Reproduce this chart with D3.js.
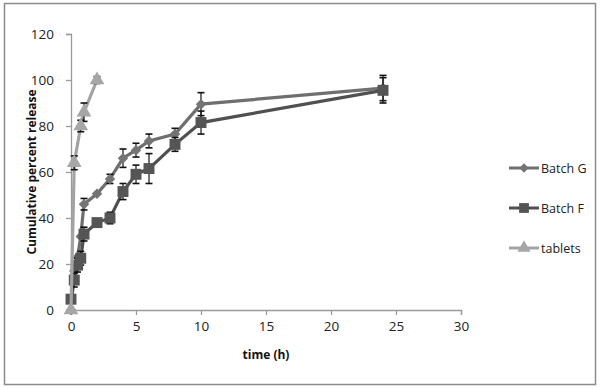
<!DOCTYPE html>
<html><head><meta charset="utf-8">
<script src="https://cdn.jsdelivr.net/npm/d3@7/dist/d3.min.js"></script>
<style>body{margin:0;background:#fff}svg{display:block;font-family:"Open Sans","Liberation Sans",sans-serif}</style>
</head><body>
<svg id="c" width="600" height="389"></svg>
<script>
const timesGF = [0,0.25,0.5,0.75,1,2,3,4,5,6,8,10,24];
const batchG = [0,17,23,32,46,50.5,57,66,69.5,73.5,76.5,89.5,96.5];
const batchGErr = [0,0,0,0,2.5,0,2,4,3,3,2.5,5,5.5];
const batchF = [4.7,13,19.5,22.5,33,38,40,51.5,59,61.5,72,81.5,95.5];
const batchFErr = [0,3,3,3,3,0,2.5,3.5,4,6.5,3,5,5.5];
const timesT = [0,0.25,0.75,1,2];
const tablets = [0,64,80,86,100];
const tabletsErr = [0,3,2.5,4,1.5];
const xTicks = [0,5,10,15,20,25,30];
const yTicks = [0,20,40,60,80,100,120];
const seriesNames = ["Batch G","Batch F","tablets"];

const svg = d3.select("#c");
svg.append("rect").attr("x",4.5).attr("y",3.5).attr("width",591).attr("height",381)
  .attr("fill","#fff").attr("stroke","#8c8c8c").attr("stroke-width",1.5);

const x = d3.scaleLinear().domain([0,30]).range([71,461]);
const y = d3.scaleLinear().domain([0,120]).range([310,34]);

const ax = svg.append("g").attr("transform","translate(0,310)")
  .call(d3.axisBottom(x).tickValues(xTicks).tickSize(5).tickPadding(6));
const ay = svg.append("g").attr("transform","translate(71,0)")
  .call(d3.axisLeft(y).tickValues(yTicks).tickSize(5).tickPadding(12));
[ax,ay].forEach(a=>{
  a.selectAll("path,line").attr("stroke","#9a9a9a").attr("stroke-width",1.3);
  a.selectAll("text").attr("font-size",13.5).attr("fill","#222").attr("font-family","Open Sans, sans-serif");
});

svg.append("text").attr("x",266).attr("y",359).attr("text-anchor","middle")
  .attr("font-size",12).attr("font-weight","bold").attr("fill","#111").text("time (h)");
svg.append("text").attr("transform","translate(36,172) rotate(-90)").attr("text-anchor","middle")
  .attr("font-size",12).attr("font-weight","bold").attr("fill","#111").text("Cumulative percent release");

const series = [
  {name:seriesNames[0], t:timesGF, v:batchG, e:batchGErr, color:"#6f6f6f", mcolor:"#747474", sym:d3.symbolSquare, rot:45, size:55},
  {name:seriesNames[1], t:timesGF, v:batchF, e:batchFErr, color:"#505050", mcolor:"#555555", sym:d3.symbolSquare, rot:0, size:120},
  {name:seriesNames[2], t:timesT, v:tablets, e:tabletsErr, color:"#a3a3a3", mcolor:"#a6a6a6", sym:d3.symbolTriangle, rot:0, size:95}
];
const line = d3.line().x(d=>x(d[0])).y(d=>y(d[1]));

series.forEach(s=>{
  const pts = s.t.map((t,i)=>[t,s.v[i],s.e[i]]);
  svg.append("path").datum(pts).attr("d",line).attr("fill","none")
    .attr("stroke",s.color).attr("stroke-width",3.2);
  const eb = svg.append("g");
  pts.filter(d=>d[2]>0).forEach(d=>{
    const cx=x(d[0]), y1=y(d[1]+d[2]), y2=y(d[1]-d[2]);
    eb.append("line").attr("x1",cx).attr("x2",cx).attr("y1",y1).attr("y2",y2).attr("stroke","#111").attr("stroke-width",1.2);
    [y1,y2].forEach(yy=>eb.append("line").attr("x1",cx-3.5).attr("x2",cx+3.5).attr("y1",yy).attr("y2",yy).attr("stroke","#111").attr("stroke-width",1.6));
  });
  svg.append("g").selectAll("path").data(pts).join("path")
    .attr("d",d3.symbol().type(s.sym).size(s.size))
    .attr("transform",d=>`translate(${x(d[0])},${y(d[1])}) rotate(${s.rot})`)
    .attr("fill",s.mcolor);
});

// legend
series.forEach((s,i)=>{
  const ly = 168 + i*40;
  const g = svg.append("g");
  g.append("line").attr("x1",509).attr("x2",539).attr("y1",ly).attr("y2",ly).attr("stroke",s.color).attr("stroke-width",3);
  g.append("path").attr("d",d3.symbol().type(s.sym).size(s.size*0.8)).attr("transform",`translate(524,${ly}) rotate(${s.rot})`).attr("fill",s.mcolor);
  g.append("text").attr("x",541).attr("y",ly+4.5).attr("font-size",12.5).attr("fill","#222").text(s.name);
});
</script>
</body></html>
